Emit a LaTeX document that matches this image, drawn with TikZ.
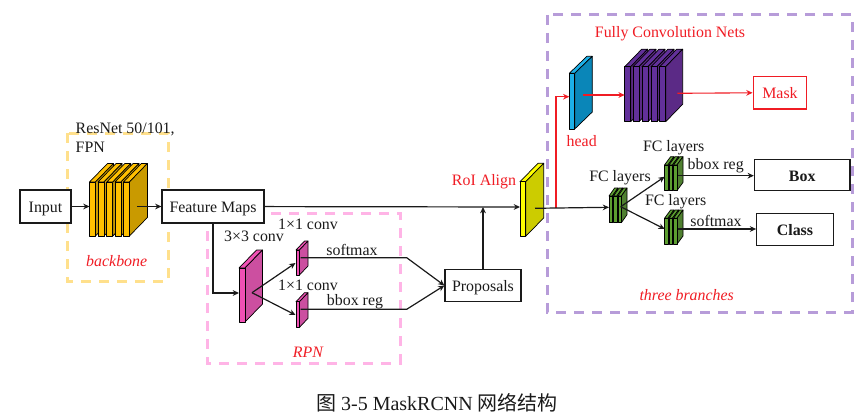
\documentclass[tikz,border=0pt]{standalone}
\usepackage{fontspec}
\setmainfont{Liberation Serif}
\newfontfamily\cjk{Noto Sans CJK SC}
\usetikzlibrary{arrows.meta, positioning, calc}
\definecolor{maskRed}{HTML}{F01C24}
\definecolor{frameYellow}{HTML}{FFE08C}
\definecolor{framePink}{HTML}{FFB4E6}
\definecolor{framePurple}{HTML}{B79CD9}
\definecolor{lineDark}{HTML}{1A1A1A}
\definecolor{resFront}{HTML}{FFC000}
\definecolor{resSide}{HTML}{C99A00}
\definecolor{rpnFront}{HTML}{F050B4}
\definecolor{rpnSide}{HTML}{CC4FA0}
\definecolor{alignFront}{HTML}{FFFF00}
\definecolor{alignSide}{HTML}{CCCC00}
\definecolor{headFront}{HTML}{1CB0E8}
\definecolor{headSide}{HTML}{0A86B8}
\definecolor{fcnFront}{HTML}{62309A}
\definecolor{fcnSide}{HTML}{5B2A86}
\definecolor{fcFront}{HTML}{5C9E30}
\definecolor{fcSide}{HTML}{4F8030}
\tikzset{
  every node/.style={font=\fontsize{15.9}{18}\selectfont, text=lineDark, inner sep=0pt},
  boxnode/.style={draw=lineDark, line width=1.2pt, fill=white, align=center, text height=11pt, text depth=0pt},
  redbox/.style={draw=maskRed, line width=1.2pt, fill=white, text=maskRed, text height=11pt, text depth=0pt},
  framebox/.style={line width=3pt, dash pattern=on 10pt off 8pt},
  redlabel/.style={text=maskRed},
  flowarr/.style={-{Stealth[length=2.2mm, width=2mm]}, lineDark, line width=1.2pt},
  redarr/.style={-{Stealth[length=2.2mm, width=2mm]}, maskRed, line width=1.1pt},
  platefill/.style={draw=black, line width=0.7pt, line join=round},
}
% x list, width, top, bottom, dx, dy, front colour, side colour
\newcommand{\platestack}[8]{
  \foreach \px in {#1} {
    \draw[platefill, fill=#7] (\px,#3) -- ++(#5,-#6) -- ++(#2,0) -- ++(-#5,#6) -- cycle;
    \draw[platefill, fill=#8] (\px+#2,#3) -- ++(#5,-#6) -- (\px+#2+#5,#4-#6) -- (\px+#2,#4) -- cycle;
    \draw[platefill, fill=#7] (\px,#3) rectangle (\px+#2,#4);
  }
}
\begin{document}
\begin{tikzpicture}[x=1pt, y=-1pt]
    \useasboundingbox (0,0) rectangle (868,420);

    % dashed frames
    \draw[framebox, frameYellow] (67,133) rectangle (168,281);
    \draw[framebox, framePink] (207,213) rectangle (400,363);
    \draw[framebox, framePurple] (547,15) rectangle (852,312);

    % layers
    \platestack{89.5,98,106.8,115,123.4}{6}{182}{236}{18}{18.5}{resFront}{resSide}
    \platestack{239}{6}{268}{322}{17.5}{18}{rpnFront}{rpnSide}
    \platestack{296}{3.5}{250}{275}{8.5}{9}{rpnFront}{rpnSide}
    \platestack{296}{3.5}{301.7}{327.3}{8.5}{9}{rpnFront}{rpnSide}
    \platestack{520}{5.7}{181.7}{236.3}{18}{18.4}{alignFront}{alignSide}
    \platestack{569.3}{5.4}{73.3}{129}{17.6}{17}{headFront}{headSide}
    \platestack{624.7,633,642,651,659.7}{6}{66.7}{121.7}{17}{17.5}{fcnFront}{fcnSide}
    \platestack{609,613.5,618}{3.4}{196}{222.7}{5.6}{8}{fcFront}{fcSide}
    \platestack{664.5,669,673.5}{3.4}{165}{190.7}{6.1}{8.3}{fcFront}{fcSide}
    \platestack{664.5,669,673.5}{3.4}{218.3}{244.3}{6.1}{8.3}{fcFront}{fcSide}

    % boxes
    \node[boxnode, minimum width=51pt, minimum height=33pt] (inputbox) at (45.5,206.5) {Input};
    \node[boxnode, minimum width=102pt, minimum height=33pt] (featuremaps) at (213,206.5) {Feature Maps};
    \node[boxnode, minimum width=76pt, minimum height=31.6pt] (proposals) at (483,285.5) {Proposals};
    \node[redbox, minimum width=53.7pt, minimum height=32.3pt] (maskbox) at (780,92.8) {Mask};
    \node[boxnode, minimum width=95.5pt, minimum height=31.4pt, text height=13.4pt, font=\fontsize{15.9}{18}\selectfont\bfseries] (boxout) at (802.2,175) {Box};
    \node[boxnode, minimum width=76.6pt, minimum height=31.6pt, font=\fontsize{15.9}{18}\selectfont\bfseries] (classout) at (795,229.5) {Class};

    % connector ends on the layers
    \coordinate (resnetIn) at (89.5,206.5);
    \coordinate (resnetOut) at (137,206.5);
    \coordinate (convIn) at (239,293);
    \coordinate (convOut) at (252,292.7);
    \coordinate (softIn) at (295.5,263);
    \coordinate (bboxIn) at (295.5,315);
    \coordinate (softOut) at (300.7,257.7);
    \coordinate (softBend) at (406.7,257.7);
    \coordinate (bboxOut) at (300.7,309.3);
    \coordinate (bboxBend) at (406.7,309.3);
    \coordinate (alignIn) at (520,207);
    \coordinate (alignOut) at (535,208.3);
    \coordinate (redTurn) at (556,208);
    \coordinate (headIn) at (569.3,96.7);
    \coordinate (headOut) at (583,95);
    \coordinate (fcnIn) at (624.7,95);
    \coordinate (fcnOut) at (677.3,93.3);
    \coordinate (fcIn) at (609,207.3);
    \coordinate (fcOut) at (620.7,206.7);
    \coordinate (fcTopIn) at (664.7,176.7);
    \coordinate (fcLowIn) at (664.7,229);
    \coordinate (fcTopOut) at (678.3,175.7);
    \coordinate (fcLowOut) at (678.3,229);

    \draw[flowarr] (inputbox) -- (resnetIn);
    \draw[flowarr] (resnetOut) -- (featuremaps);
    \draw[flowarr] (featuremaps) -- (alignIn);
    \draw[flowarr] (featuremaps.south) |- (convIn);
    \draw[flowarr] (convOut) -- (softIn);
    \draw[flowarr] (convOut) -- (bboxIn);
    \draw[flowarr] (softOut) -- (softBend) -- (proposals.west);
    \draw[flowarr] (bboxOut) -- (bboxBend) -- (proposals.west);
    \draw[flowarr] (proposals.north) -- (proposals.north |- alignIn);
    \draw[redarr] (redTurn) |- (headIn);
    \draw[redarr] (headOut) -- (fcnIn);
    \draw[redarr] (fcnOut) -- (maskbox.west);
    \draw[flowarr] (alignOut) -- (fcIn);
    \draw[flowarr] (fcOut) -- (fcTopIn);
    \draw[flowarr] (fcOut) -- (fcLowIn);
    \draw[flowarr] (fcTopOut) -- (fcTopOut -| boxout.west);
    \draw[flowarr] (fcLowOut) -- (fcLowOut -| classout.west);

    % labels
    \node[align=left, anchor=north west] (resnetlabel) at (75.5,122.5) {ResNet 50/101,\\[1pt]FPN};
    \node[redlabel, font=\fontsize{15.9}{18}\selectfont\itshape] (backbonelabel) at (116.7,261) {backbone};
    \node (convlabel) at (254,236.5) {3×3 conv};
    \node (softconv) at (308,224) {1×1 conv};
    \node (bboxconv) at (308,285) {1×1 conv};
    \node (softlabel) at (352,250) {softmax};
    \node (bboxlabel) at (355,301.5) {bbox reg};
    \node[redlabel, font=\fontsize{15.9}{18}\selectfont\itshape] (rpnlabel) at (308,352) {RPN};
    \node[redlabel] (alignlabel) at (484,181.5) {RoI Align};
    \node[redlabel] (fcnlabel) at (670,33.5) {Fully Convolution Nets};
    \node[redlabel] (headlabel) at (581.7,141) {head};
    \node (fclabel) at (620,178) {FC layers};
    \node (fctoplabel) at (673.7,148) {FC layers};
    \node (fclowlabel) at (675.7,202) {FC layers};
    \node (topreg) at (715.7,166) {bbox reg};
    \node (lowsoft) at (716,220.5) {softmax};
    \node[redlabel, font=\fontsize{15.9}{18}\selectfont\itshape] (brancheslabel) at (686.7,295) {three branches};
    \node[font=\fontsize{20}{22}\selectfont] (caption) at (437,403) {{\cjk 图} 3-5 MaskRCNN {\cjk 网络结构}};
  \end{tikzpicture}
\end{document}
